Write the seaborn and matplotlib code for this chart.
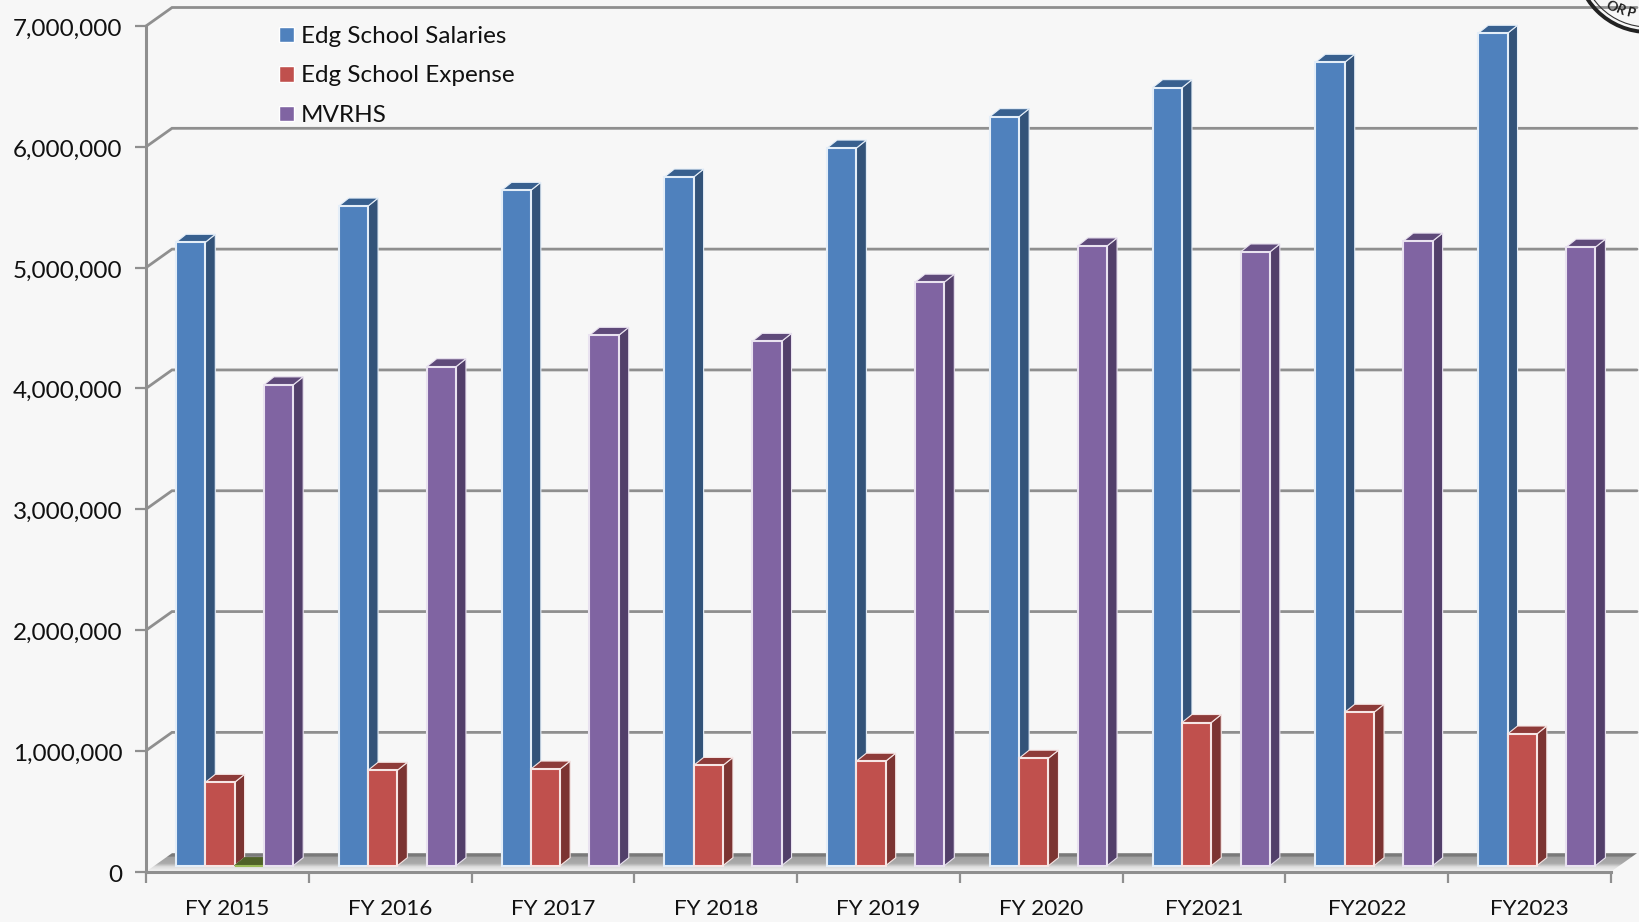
import numpy as np
import pandas as pd
import seaborn as sns
import matplotlib
matplotlib.use("Agg")
import matplotlib.pyplot as plt
from matplotlib.colors import LinearSegmentedColormap
from matplotlib.patches import Polygon, Circle
from matplotlib.transforms import Affine2D, ScaledTranslation

# Budget figures by fiscal year
years = ["FY 2015", "FY 2016", "FY 2017", "FY 2018", "FY 2019", "FY 2020",
         "FY2021", "FY2022", "FY2023"]
salaries = [5160000, 5460000, 5590000, 5700000, 5940000, 6200000, 6440000, 6650000, 6890000]
expense = [690000, 790000, 800000, 830000, 865000, 890000, 1185000, 1270000, 1090000]
other = [0, np.nan, np.nan, np.nan, np.nan, np.nan, np.nan, np.nan, np.nan]
mvrhs = [3980000, 4130000, 4390000, 4340000, 4830000, 5130000, 5080000, 5170000, 5120000]
series_names = ["Edg School Salaries", "Edg School Expense", "Other", "MVRHS"]
y_ticks = [0, 1000000, 2000000, 3000000, 4000000, 5000000, 6000000, 7000000]

face = ["#4f81bd", "#c0504d", "#9bbb59", "#8064a2"]
side = ["#335379", "#7c3432", "#4f6228", "#523f6a"]
top = ["#38608f", "#8e3b39", "#4f6228", "#5f4a7a"]
edge = ["#e4eef8", "#f6e6e5", "#9bbb59", "#e9e2f0"]
grid_col = "#8f8f8f"
bg = "#f7f7f7"

sns.set_theme(style="white")
plt.rcParams["font.family"] = ["Lato", "DejaVu Sans"]

W, H = 1640, 922
fig = plt.figure(figsize=(W / 100, H / 100), dpi=100, facecolor=bg)
L, R, Y0, Y7 = 146.0, 1611.0, 871.7, 26.0
ax = fig.add_axes([L / W, 1 - Y0 / H, (R - L) / W, (Y0 - Y7) / H], facecolor="none")

df = pd.DataFrame({"year": years, series_names[0]: salaries, series_names[1]: expense,
                   series_names[2]: other, series_names[3]: mvrhs})
long = df.melt(id_vars="year", var_name="series", value_name="amount").dropna()

sns.barplot(data=long, x="year", y="amount", hue="series", hue_order=series_names,
            order=years, palette=face, width=0.72, dodge=True, gap=0, saturation=1,
            errorbar=None, ax=ax, legend=True)

ax.set_xlim(-0.5, 8.5)
ax.set_ylim(0, 7000000)

# Unit conversions from pixels to data values
px_x = 9.0 / (R - L)
px_y = 7000000 / (Y0 - Y7)
wall_dx, wall_dy = 26 * px_x, 18.5 * px_y
box_dx, box_dy = 10 * px_x, 8 * px_y

# Receding wall lines and gridlines
for v in y_ticks[1:]:
    ax.plot([-0.5, -0.5 + wall_dx, 8.5 + wall_dx], [v, v + wall_dy, v + wall_dy],
            color=grid_col, lw=2, clip_on=False, zorder=1, solid_joinstyle="miter")

# Floor of the chart box, shaded from the back edge to the front edge
floor = Polygon([(-0.5, 0), (8.5, 0), (8.5 + wall_dx, wall_dy), (-0.5 + wall_dx, wall_dy)],
                closed=True, transform=ax.transData, facecolor="none", edgecolor="none")
ax.add_patch(floor)
shade = np.linspace(0.0, 1.0, 60).reshape(-1, 1)
img = ax.imshow(shade, extent=(-0.5, 8.5 + wall_dx, 0, wall_dy), aspect="auto", origin="lower",
                cmap=LinearSegmentedColormap.from_list(
                    "floor", [(0, "#f6f6f6"), (0.28, "#dcdcdc"), (0.45, "#ababab"),
                              (0.8, "#a0a0a0"), (0.83, "#7a7a7a"), (1, "#7a7a7a")]),
                zorder=1.5, interpolation="bilinear")
img.set_clip_box(fig.bbox)
img.set_clip_path(floor)
ax.set_xlim(-0.5, 8.5)
ax.set_ylim(0, 7000000)

# Extrude each bar into a box standing a little behind the front plane
shift = ax.transData + Affine2D().translate(7.2, 6.0)
for j, container in enumerate(ax.containers):
    for bar in container:
        x0, w, h = bar.get_x(), bar.get_width(), bar.get_height()
        x1 = x0 + w
        z = 3 + (x0 + 1) * 0.5
        if h > 0:
            ax.add_patch(Polygon([(x1, 0), (x1 + box_dx, box_dy), (x1 + box_dx, h + box_dy), (x1, h)],
                                 closed=True, facecolor=side[j], edgecolor=edge[j], lw=0.8,
                                 transform=shift, clip_on=False, zorder=z))
        ax.add_patch(Polygon([(x0, h), (x1, h), (x1 + box_dx, h + box_dy), (x0 + box_dx, h + box_dy)],
                             closed=True, facecolor=top[j], edgecolor=edge[j] if h > 0 else top[j],
                             lw=0.8, transform=shift, clip_on=False, zorder=z + 0.001))
        bar.set_transform(shift)
        bar.set_clip_on(False)
        bar.set_edgecolor(edge[j])
        bar.set_linewidth(1.5)
        bar.set_zorder(z + 0.002)

# Axes furniture
sns.despine(ax=ax, top=True, right=True)
for name in ("left", "bottom"):
    ax.spines[name].set_color(grid_col)
    ax.spines[name].set_linewidth(2.2)
ax.set_xlabel("")
ax.set_ylabel("")
ax.set_xticks(range(len(years)), years)
ax.set_xticks(np.arange(-0.5, 9, 1), minor=True)
ax.tick_params(axis="x", which="major", length=0, pad=19.5, labelsize=16.2, labelcolor="#111111")
ax.tick_params(axis="x", which="minor", length=8, width=1.6, color=grid_col, direction="out", bottom=True)
ax.set_yticks(y_ticks, [f"{v:,}" for v in y_ticks])
ax.tick_params(axis="y", length=8, width=1.6, color=grid_col, direction="out", left=True,
               pad=9, labelsize=17.5, labelcolor="#111111")
# Value labels sit slightly under their tick marks
nudge = ScaledTranslation(0, -1.0 / 72, fig.dpi_scale_trans)
for label in ax.get_yticklabels():
    label.set_transform(label.get_transform() + nudge)

# Legend lists the three named series only
handles, labels = ax.get_legend_handles_labels()
keep = [0, 1, 3]
ax.legend([handles[i] for i in keep], [labels[i] for i in keep], frameon=False,
          loc="upper left", bbox_to_anchor=((279 - L) / (R - L), 1.0),
          borderaxespad=0, borderpad=0, handlelength=0.6, handleheight=0.6, handletextpad=0.3,
          labelspacing=0.76, fontsize=17.5, labelcolor="#111111")

# Corner of the round seal printed over the top right of the page
overlay = fig.add_axes([0, 0, 1, 1], facecolor="none")
overlay.set_xlim(0, W)
overlay.set_ylim(H, 0)
overlay.axis("off")
overlay.add_patch(Circle((1648, -40), 72, fill=False, edgecolor="#222222", lw=2.8, clip_on=False))
overlay.add_patch(Circle((1648, -40), 67, fill=False, edgecolor="#333333", lw=0.8, clip_on=False))
for ch, x, y, rot in [("O", 1611, 7, -32), ("R", 1621, 10, -24), ("P", 1631, 13, -14)]:
    overlay.text(x, y, ch, fontsize=10, fontweight="bold", color="#222222", rotation=rot,
                 ha="center", va="center")

fig.savefig("out.png", dpi=100, facecolor=bg)
